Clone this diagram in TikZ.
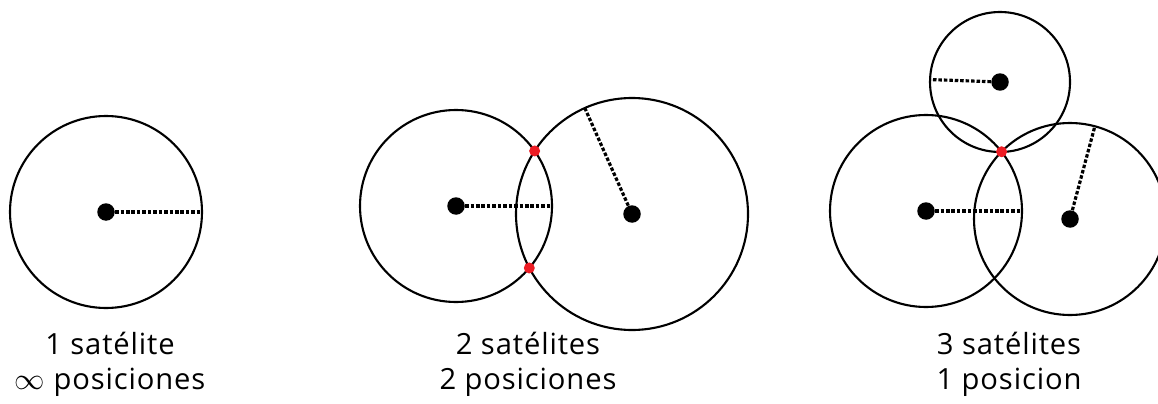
\documentclass[tikz,border=0pt]{standalone}
\usepackage{fontspec}
\setmainfont{Open Sans}[LetterSpace=3]
\usepackage{tikz}
\usepackage{xcolor}
\usetikzlibrary{calc,intersections}
\definecolor{gpsred}{HTML}{ED1C24}
\tikzset{
  sat/.style      = {circle, fill=black, minimum size=0.35cm, inner sep=0pt},
  fix/.style      = {circle, fill=gpsred, minimum size=0.22cm, inner sep=0pt},
  sphere/.style   = {draw=black, line width=1.2pt},
  reach/.style    = {draw=black, line width=1.8pt, dash pattern=on 2pt off 1.1pt},
  caption/.style  = {font=\fontsize{16.6}{19.7}\selectfont, align=center,
                     inner sep=0pt},
}

\begin{document}
\begin{tikzpicture}[x=0.02cm, y=0.02cm]
  \useasboundingbox (0,0) rectangle (1158,403);

  % ---------- one satellite --------------------------------------------
  \node[sat] (s1) at (106,191) {};
  \coordinate (e1) at ($(s1)+(0:96)$);
  \draw[sphere] (s1) circle (96);
  \draw[reach] (s1) -- (e1);
  \node[caption, anchor=base] (t1) at (110,14)
    {1 satélite\\ $\infty$ posiciones};

  % ---------- two satellites -------------------------------------------
  \node[sat] (s2a) at (456,197) {};
  \node[sat] (s2b) at (632,189) {};
  \coordinate (e2a) at ($(s2a)+(0:96)$);
  \coordinate (e2b) at ($(s2b)+(114:116)$);
  \draw[sphere, name path=c2a] (s2a) circle (96);
  \draw[sphere, name path=c2b] (s2b) circle (116);
  \draw[reach] (s2a) -- (e2a);
  \draw[reach] (s2b) -- (e2b);
  \path[name intersections={of=c2a and c2b, by={x2a,x2b}}];
  \node[fix] (p2a) at (x2a) {};
  \node[fix] (p2b) at (x2b) {};
  \node[caption, anchor=base] (t2) at (528,14) {2 satélites\\ 2 posiciones};

  % ---------- three satellites -----------------------------------------
  \node[sat] (s3t) at (1000,321) {};
  \node[sat] (s3l) at (926,192) {};
  \node[sat] (s3r) at (1070,184) {};
  \coordinate (e3t) at ($(s3t)+(178:70)$);
  \coordinate (e3l) at ($(s3l)+(0:95)$);
  \coordinate (e3r) at ($(s3r)+(75:96)$);
  \draw[sphere] (s3t) circle (70);
  \draw[sphere, name path=c3l] (s3l) circle (96);
  \draw[sphere, name path=c3r] (s3r) circle (96);
  \draw[reach] (s3t) -- (e3t);
  \draw[reach] (s3l) -- (e3l);
  \draw[reach] (s3r) -- (e3r);
  \path[name intersections={of=c3l and c3r, by={x3a,x3b}}];
  \node[fix] (p3) at (x3a) {};
  \node[caption, anchor=base] (t3) at (1009,14) {3 satélites\\ 1 posicion};

\end{tikzpicture}
\end{document}
